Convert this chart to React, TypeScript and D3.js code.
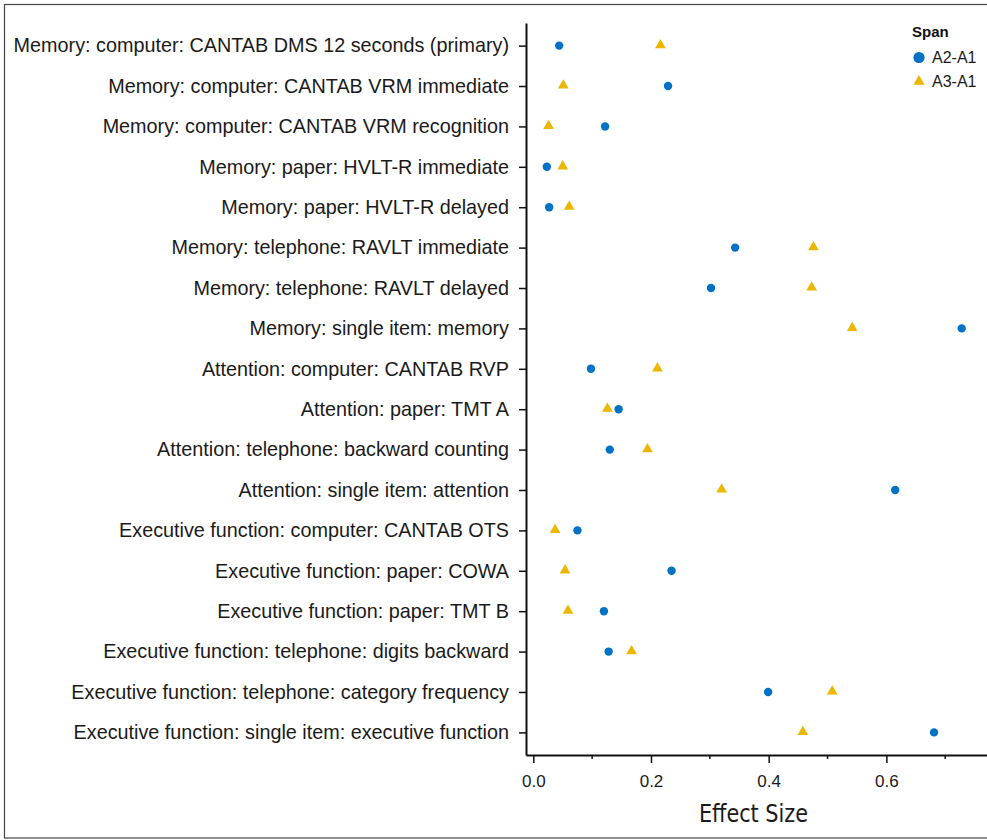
import React from "react";
import * as d3 from "d3";

const categories = [
  "Memory: computer: CANTAB DMS 12 seconds (primary)",
  "Memory: computer: CANTAB VRM immediate",
  "Memory: computer: CANTAB VRM recognition",
  "Memory: paper: HVLT-R immediate",
  "Memory: paper: HVLT-R delayed",
  "Memory: telephone: RAVLT immediate",
  "Memory: telephone: RAVLT delayed",
  "Memory: single item: memory",
  "Attention: computer: CANTAB RVP",
  "Attention: paper: TMT A",
  "Attention: telephone: backward counting",
  "Attention: single item: attention",
  "Executive function: computer: CANTAB OTS",
  "Executive function: paper: COWA",
  "Executive function: paper: TMT B",
  "Executive function: telephone: digits backward",
  "Executive function: telephone: category frequency",
  "Executive function: single item: executive function",
];

// A2-A1 span effect sizes
const a2a1 = [
  0.044, 0.229, 0.122, 0.023, 0.027, 0.343, 0.302, 0.728, 0.098,
  0.145, 0.130, 0.615, 0.075, 0.235, 0.120, 0.128, 0.399, 0.681,
];

// A3-A1 span effect sizes
const a3a1 = [
  0.216, 0.051, 0.026, 0.050, 0.061, 0.476, 0.473, 0.542, 0.211,
  0.126, 0.194, 0.320, 0.037, 0.054, 0.059, 0.167, 0.508, 0.458,
];

const xTicks = [0, 0.2, 0.4, 0.6];
const xMinorTicks = [0.1, 0.3, 0.5, 0.7];

const spans = ["A2-A1", "A3-A1"];

const BLUE = "#0072c6";
const YELLOW = "#ebb700";
const FONT = "'Liberation Sans', Arial, Helvetica, sans-serif";

export default function App() {
  const ref = React.useRef<SVGSVGElement>(null);
  const width = 987;
  const height = 840;

  React.useEffect(() => {
    const svg = d3.select(ref.current);
    svg.selectAll("*").remove();

    const x = d3.scaleLinear().domain([-0.0124, 0.7761]).range([526, 990]);
    const y = d3.scalePoint().domain(categories).range([23, 755]).padding(0.56);

    // frame
    svg
      .append("rect")
      .attr("x", 4.5)
      .attr("y", 4.5)
      .attr("width", 1000)
      .attr("height", 833.5)
      .attr("fill", "none")
      .attr("stroke", "#444")
      .attr("stroke-width", 1.2);

    // y axis
    const yAxis = svg
      .append("g")
      .attr("transform", "translate(526,0)")
      .call(d3.axisLeft(y).tickSize(7).tickPadding(10).tickSizeOuter(0));
    yAxis.select(".domain").attr("stroke", "#111").attr("stroke-width", 2);
    yAxis.selectAll(".tick line").attr("stroke", "#111").attr("stroke-width", 1.5);
    yAxis
      .selectAll(".tick text")
      .attr("fill", "#1a1a1a")
      .style("font-family", FONT)
      .style("font-size", "19.8px");

    // x axis
    const xAxis = svg
      .append("g")
      .attr("transform", "translate(0,755)")
      .call(
        d3
          .axisBottom(x)
          .tickValues(xTicks)
          .tickFormat(d3.format(".1f"))
          .tickSize(8)
          .tickPadding(12)
          .tickSizeOuter(0)
      );
    xAxis.select(".domain").attr("stroke", "#111").attr("stroke-width", 2);
    xAxis.selectAll(".tick line").attr("stroke", "#111").attr("stroke-width", 1.5);
    xAxis
      .selectAll(".tick text")
      .attr("fill", "#1a1a1a")
      .style("font-family", FONT)
      .style("font-size", "17px");

    svg
      .append("g")
      .selectAll("line")
      .data(xMinorTicks)
      .enter()
      .append("line")
      .attr("x1", (d) => x(d))
      .attr("x2", (d) => x(d))
      .attr("y1", 755)
      .attr("y2", 759)
      .attr("stroke", "#111")
      .attr("stroke-width", 1.5);

    svg
      .append("text")
      .attr("x", 753.5)
      .attr("y", 821.5)
      .attr("text-anchor", "middle")
      .attr("fill", "#1a1a1a")
      .style("font-family", "'Liberation Sans Narrow', 'DejaVu Sans Condensed', 'Arial Narrow', sans-serif")
      .style("font-stretch", "condensed")
      .style("font-size", "25px")
      .attr("textLength", 109)
      .attr("lengthAdjust", "spacingAndGlyphs")
      .text("Effect Size");

    const tri = d3.symbol().type(d3.symbolTriangle).size(50);

    // A3-A1 triangles
    svg
      .append("g")
      .selectAll("path")
      .data(a3a1)
      .enter()
      .append("path")
      .attr("d", tri)
      .attr("transform", (d, i) => `translate(${x(d)},${(y(categories[i]) as number) - 0.5})`)
      .attr("fill", YELLOW);

    // A2-A1 circles
    svg
      .append("g")
      .selectAll("circle")
      .data(a2a1)
      .enter()
      .append("circle")
      .attr("cx", (d) => x(d))
      .attr("cy", (d, i) => y(categories[i]) as number)
      .attr("r", 4.2)
      .attr("fill", BLUE);

    // legend
    const legend = svg.append("g").attr("transform", "translate(912,0)");
    legend
      .append("text")
      .attr("x", 0)
      .attr("y", 37)
      .style("font-family", FONT)
      .style("font-size", "15px")
      .style("font-weight", "700")
      .attr("fill", "#111")
      .text("Span");

    const items = legend
      .selectAll("g.item")
      .data(spans)
      .enter()
      .append("g")
      .attr("class", "item")
      .attr("transform", (d, i) => `translate(7,${57.5 + i * 24})`);

    items
      .filter((d, i) => i === 0)
      .append("circle")
      .attr("r", 5.6)
      .attr("fill", BLUE);
    items
      .filter((d, i) => i === 1)
      .append("path")
      .attr("d", d3.symbol().type(d3.symbolTriangle).size(55))
      .attr("fill", YELLOW);

    items
      .append("text")
      .attr("x", 13)
      .attr("dy", "0.36em")
      .style("font-family", FONT)
      .style("font-size", "16px")
      .attr("fill", "#1a1a1a")
      .text((d) => d);
  }, []);

  return (
    <svg
      ref={ref}
      width={width}
      height={height}
      style={{ position: "absolute", left: 0, top: 0, background: "#fff" }}
    />
  );
}
